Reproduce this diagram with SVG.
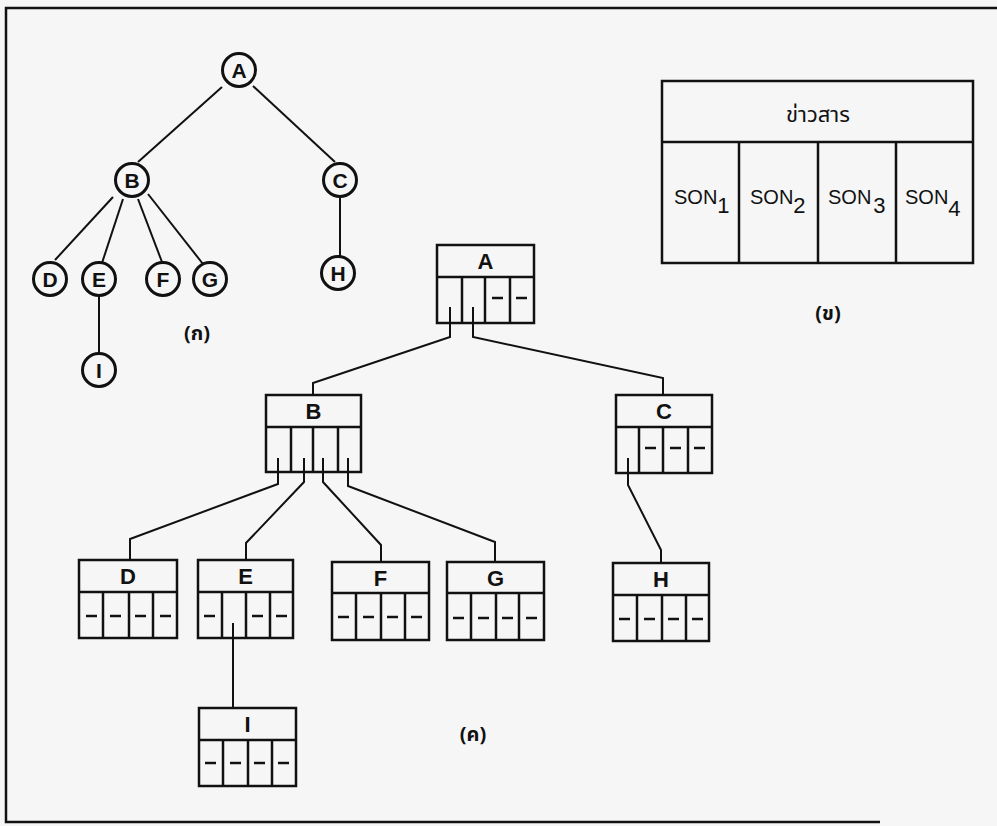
<svg xmlns="http://www.w3.org/2000/svg" width="997" height="826" viewBox="0 0 997 826">
<defs>
<style>
.bg{fill:#f6f6f6}
.frame{fill:none;stroke:#111;stroke-width:2.5}
.c{fill:#f6f6f6;stroke:#111;stroke-width:3}
.ct{font-family:"Liberation Sans",Arial,sans-serif;font-weight:bold;font-size:21px;text-anchor:middle;fill:#111}
.box{fill:#f6f6f6;stroke:#111;stroke-width:2.5}
.ln{fill:none;stroke:#111;stroke-width:2.5}
.edge{fill:none;stroke:#111;stroke-width:2}
.bt{font-family:"Liberation Sans",Arial,sans-serif;font-weight:bold;font-size:22px;text-anchor:middle;fill:#111}
.son{font-family:"Liberation Sans",Arial,sans-serif;font-size:20px;fill:#111}
.sub{font-size:22px}
.th{font-family:"Noto Sans Thai","Noto Sans","DejaVu Sans",sans-serif;font-size:22px;text-anchor:middle;fill:#111}
.lab{font-family:"Noto Sans Thai","Noto Sans","DejaVu Sans",sans-serif;font-weight:bold;font-size:20px;text-anchor:middle;fill:#111}
</style>
</defs>
<rect class="bg" x="0" y="0" width="997" height="826"/>
<polyline class="frame" points="997,8 6,8 6,822 880,822"/>

<!-- (a) tree connectors -->
<g id="tree-edges">
<line class="edge" x1="222" y1="87" x2="138" y2="162"/>
<line class="edge" x1="253" y1="86" x2="335" y2="162"/>
<line class="edge" x1="113" y1="197" x2="55" y2="260"/>
<line class="edge" x1="123" y1="199" x2="102" y2="263"/>
<line class="edge" x1="138" y1="199" x2="162" y2="262"/>
<line class="edge" x1="148" y1="194" x2="203" y2="264"/>
<line class="edge" x1="340" y1="197" x2="340" y2="257"/>
<line class="edge" x1="99" y1="296" x2="99" y2="354"/>
</g>
<g id="tA"><circle class="c" cx="239" cy="70" r="16.5"/><text class="ct" x="239" y="77.5">A</text></g>
<g id="tB"><circle class="c" cx="132" cy="180" r="16.5"/><text class="ct" x="132" y="187.5">B</text></g>
<g id="tC"><circle class="c" cx="340" cy="180" r="16.5"/><text class="ct" x="340" y="187.5">C</text></g>
<g id="tD"><circle class="c" cx="50" cy="279" r="16.5"/><text class="ct" x="50" y="286.5">D</text></g>
<g id="tE"><circle class="c" cx="99" cy="279" r="16.5"/><text class="ct" x="99" y="286.5">E</text></g>
<g id="tF"><circle class="c" cx="163" cy="279" r="16.5"/><text class="ct" x="163" y="286.5">F</text></g>
<g id="tG"><circle class="c" cx="210" cy="279" r="16.5"/><text class="ct" x="210" y="286.5">G</text></g>
<g id="tH"><circle class="c" cx="338" cy="273" r="16.5"/><text class="ct" x="338" y="280.5">H</text></g>
<g id="tI"><circle class="c" cx="99" cy="370" r="16.5"/><text class="ct" x="99" y="377.5">I</text></g>
<text class="lab" x="197" y="340">(ก)</text>

<!-- (b) record layout -->
<g id="record">
<rect class="box" x="662" y="81" width="311" height="182"/>
<line class="ln" x1="662" y1="142" x2="973" y2="142"/>
<line class="ln" x1="739" y1="142" x2="739" y2="263"/>
<line class="ln" x1="818" y1="142" x2="818" y2="263"/>
<line class="ln" x1="896" y1="142" x2="896" y2="263"/>
<text class="th" x="818" y="122">ข่าวสาร</text>
<text class="son" x="674" y="204">SON<tspan class="sub" dy="9">1</tspan></text>
<text class="son" x="750" y="204">SON<tspan class="sub" dy="9">2</tspan></text>
<text class="son" x="828" y="204">SON<tspan class="sub" dx="2" dy="9">3</tspan></text>
<text class="son" x="905" y="204">SON<tspan class="sub" dy="12">4</tspan></text>
</g>
<text class="lab" x="828" y="320">(ข)</text>

<!-- (c) nodes -->
<g id="nA">
<rect class="box" x="437" y="245" width="97" height="78"/>
<line class="ln" x1="437" y1="277" x2="534" y2="277"/>
<line class="ln" x1="462" y1="277" x2="462" y2="323"/>
<line class="ln" x1="485" y1="277" x2="485" y2="323"/>
<line class="ln" x1="510" y1="277" x2="510" y2="323"/>
<line class="ln" x1="492" y1="298" x2="503" y2="298"/>
<line class="ln" x1="516" y1="298" x2="527" y2="298"/>
<text class="bt" x="485.5" y="269">A</text>
</g>
<g id="nB">
<rect class="box" x="266" y="395" width="95" height="77"/>
<line class="ln" x1="266" y1="427" x2="361" y2="427"/>
<line class="ln" x1="291" y1="427" x2="291" y2="472"/>
<line class="ln" x1="313" y1="427" x2="313" y2="472"/>
<line class="ln" x1="338" y1="427" x2="338" y2="472"/>
<text class="bt" x="313.5" y="419">B</text>
</g>
<g id="nC">
<rect class="box" x="616" y="395" width="96" height="78"/>
<line class="ln" x1="616" y1="427" x2="712" y2="427"/>
<line class="ln" x1="639" y1="427" x2="639" y2="473"/>
<line class="ln" x1="663" y1="427" x2="663" y2="473"/>
<line class="ln" x1="688" y1="427" x2="688" y2="473"/>
<line class="ln" x1="645" y1="448" x2="656" y2="448"/>
<line class="ln" x1="670" y1="448" x2="681" y2="448"/>
<line class="ln" x1="694" y1="448" x2="705" y2="448"/>
<text class="bt" x="664" y="419">C</text>
</g>
<g id="nD">
<rect class="box" x="79" y="560" width="98" height="78"/>
<line class="ln" x1="79" y1="592" x2="177" y2="592"/>
<line class="ln" x1="103" y1="592" x2="103" y2="638"/>
<line class="ln" x1="129" y1="592" x2="129" y2="638"/>
<line class="ln" x1="153" y1="592" x2="153" y2="638"/>
<line class="ln" x1="86" y1="616" x2="97" y2="616"/>
<line class="ln" x1="110" y1="616" x2="121" y2="616"/>
<line class="ln" x1="135" y1="616" x2="146" y2="616"/>
<line class="ln" x1="160" y1="616" x2="171" y2="616"/>
<text class="bt" x="128" y="584">D</text>
</g>
<g id="nE">
<rect class="box" x="198" y="560" width="95" height="78"/>
<line class="ln" x1="198" y1="592" x2="293" y2="592"/>
<line class="ln" x1="222" y1="592" x2="222" y2="638"/>
<line class="ln" x1="246" y1="592" x2="246" y2="638"/>
<line class="ln" x1="270" y1="592" x2="270" y2="638"/>
<line class="ln" x1="204" y1="616" x2="215" y2="616"/>
<line class="ln" x1="252" y1="616" x2="263" y2="616"/>
<line class="ln" x1="276" y1="616" x2="287" y2="616"/>
<text class="bt" x="245.5" y="584">E</text>
</g>
<g id="nF">
<rect class="box" x="332" y="562" width="97" height="78"/>
<line class="ln" x1="332" y1="593" x2="429" y2="593"/>
<line class="ln" x1="356" y1="593" x2="356" y2="640"/>
<line class="ln" x1="381" y1="593" x2="381" y2="640"/>
<line class="ln" x1="405" y1="593" x2="405" y2="640"/>
<line class="ln" x1="338" y1="617" x2="349" y2="617"/>
<line class="ln" x1="363" y1="617" x2="374" y2="617"/>
<line class="ln" x1="387" y1="617" x2="398" y2="617"/>
<line class="ln" x1="411" y1="617" x2="422" y2="617"/>
<text class="bt" x="380.5" y="586">F</text>
</g>
<g id="nG">
<rect class="box" x="447" y="562" width="97" height="78"/>
<line class="ln" x1="447" y1="593" x2="544" y2="593"/>
<line class="ln" x1="471" y1="593" x2="471" y2="640"/>
<line class="ln" x1="496" y1="593" x2="496" y2="640"/>
<line class="ln" x1="519" y1="593" x2="519" y2="640"/>
<line class="ln" x1="453" y1="618" x2="464" y2="618"/>
<line class="ln" x1="478" y1="618" x2="489" y2="618"/>
<line class="ln" x1="502" y1="618" x2="513" y2="618"/>
<line class="ln" x1="526" y1="618" x2="537" y2="618"/>
<text class="bt" x="495.5" y="586">G</text>
</g>
<g id="nH">
<rect class="box" x="613" y="563" width="96" height="78"/>
<line class="ln" x1="613" y1="595" x2="709" y2="595"/>
<line class="ln" x1="637" y1="595" x2="637" y2="641"/>
<line class="ln" x1="662" y1="595" x2="662" y2="641"/>
<line class="ln" x1="686" y1="595" x2="686" y2="641"/>
<line class="ln" x1="619" y1="619" x2="630" y2="619"/>
<line class="ln" x1="644" y1="619" x2="655" y2="619"/>
<line class="ln" x1="668" y1="619" x2="679" y2="619"/>
<line class="ln" x1="692" y1="619" x2="703" y2="619"/>
<text class="bt" x="661" y="587">H</text>
</g>
<g id="nI">
<rect class="box" x="199" y="708" width="97" height="78"/>
<line class="ln" x1="199" y1="740" x2="296" y2="740"/>
<line class="ln" x1="223" y1="740" x2="223" y2="786"/>
<line class="ln" x1="248" y1="740" x2="248" y2="786"/>
<line class="ln" x1="272" y1="740" x2="272" y2="786"/>
<line class="ln" x1="205" y1="763" x2="216" y2="763"/>
<line class="ln" x1="230" y1="763" x2="241" y2="763"/>
<line class="ln" x1="254" y1="763" x2="265" y2="763"/>
<line class="ln" x1="278" y1="763" x2="289" y2="763"/>
<text class="bt" x="247.5" y="732">I</text>
</g>
<text class="lab" x="473" y="741">(ค)</text>

<!-- (c) connectors, drawn over the boxes so pointers show inside cells -->
<g id="connectors">
<polyline class="edge" points="450,307 450,337 313,383 313,395"/>
<polyline class="edge" points="473,307 473,337 663,378 663,395"/>
<polyline class="edge" points="278,458 278,484 130,539 130,560"/>
<polyline class="edge" points="304,458 304,482 246,543 246,560"/>
<polyline class="edge" points="323,458 323,482 381,545 381,562"/>
<polyline class="edge" points="348,458 348,486 495,542 495,562"/>
<polyline class="edge" points="628,458 628,485 661,550 661,563"/>
<polyline class="edge" points="233,623 233,708"/>
</g>
</svg>
